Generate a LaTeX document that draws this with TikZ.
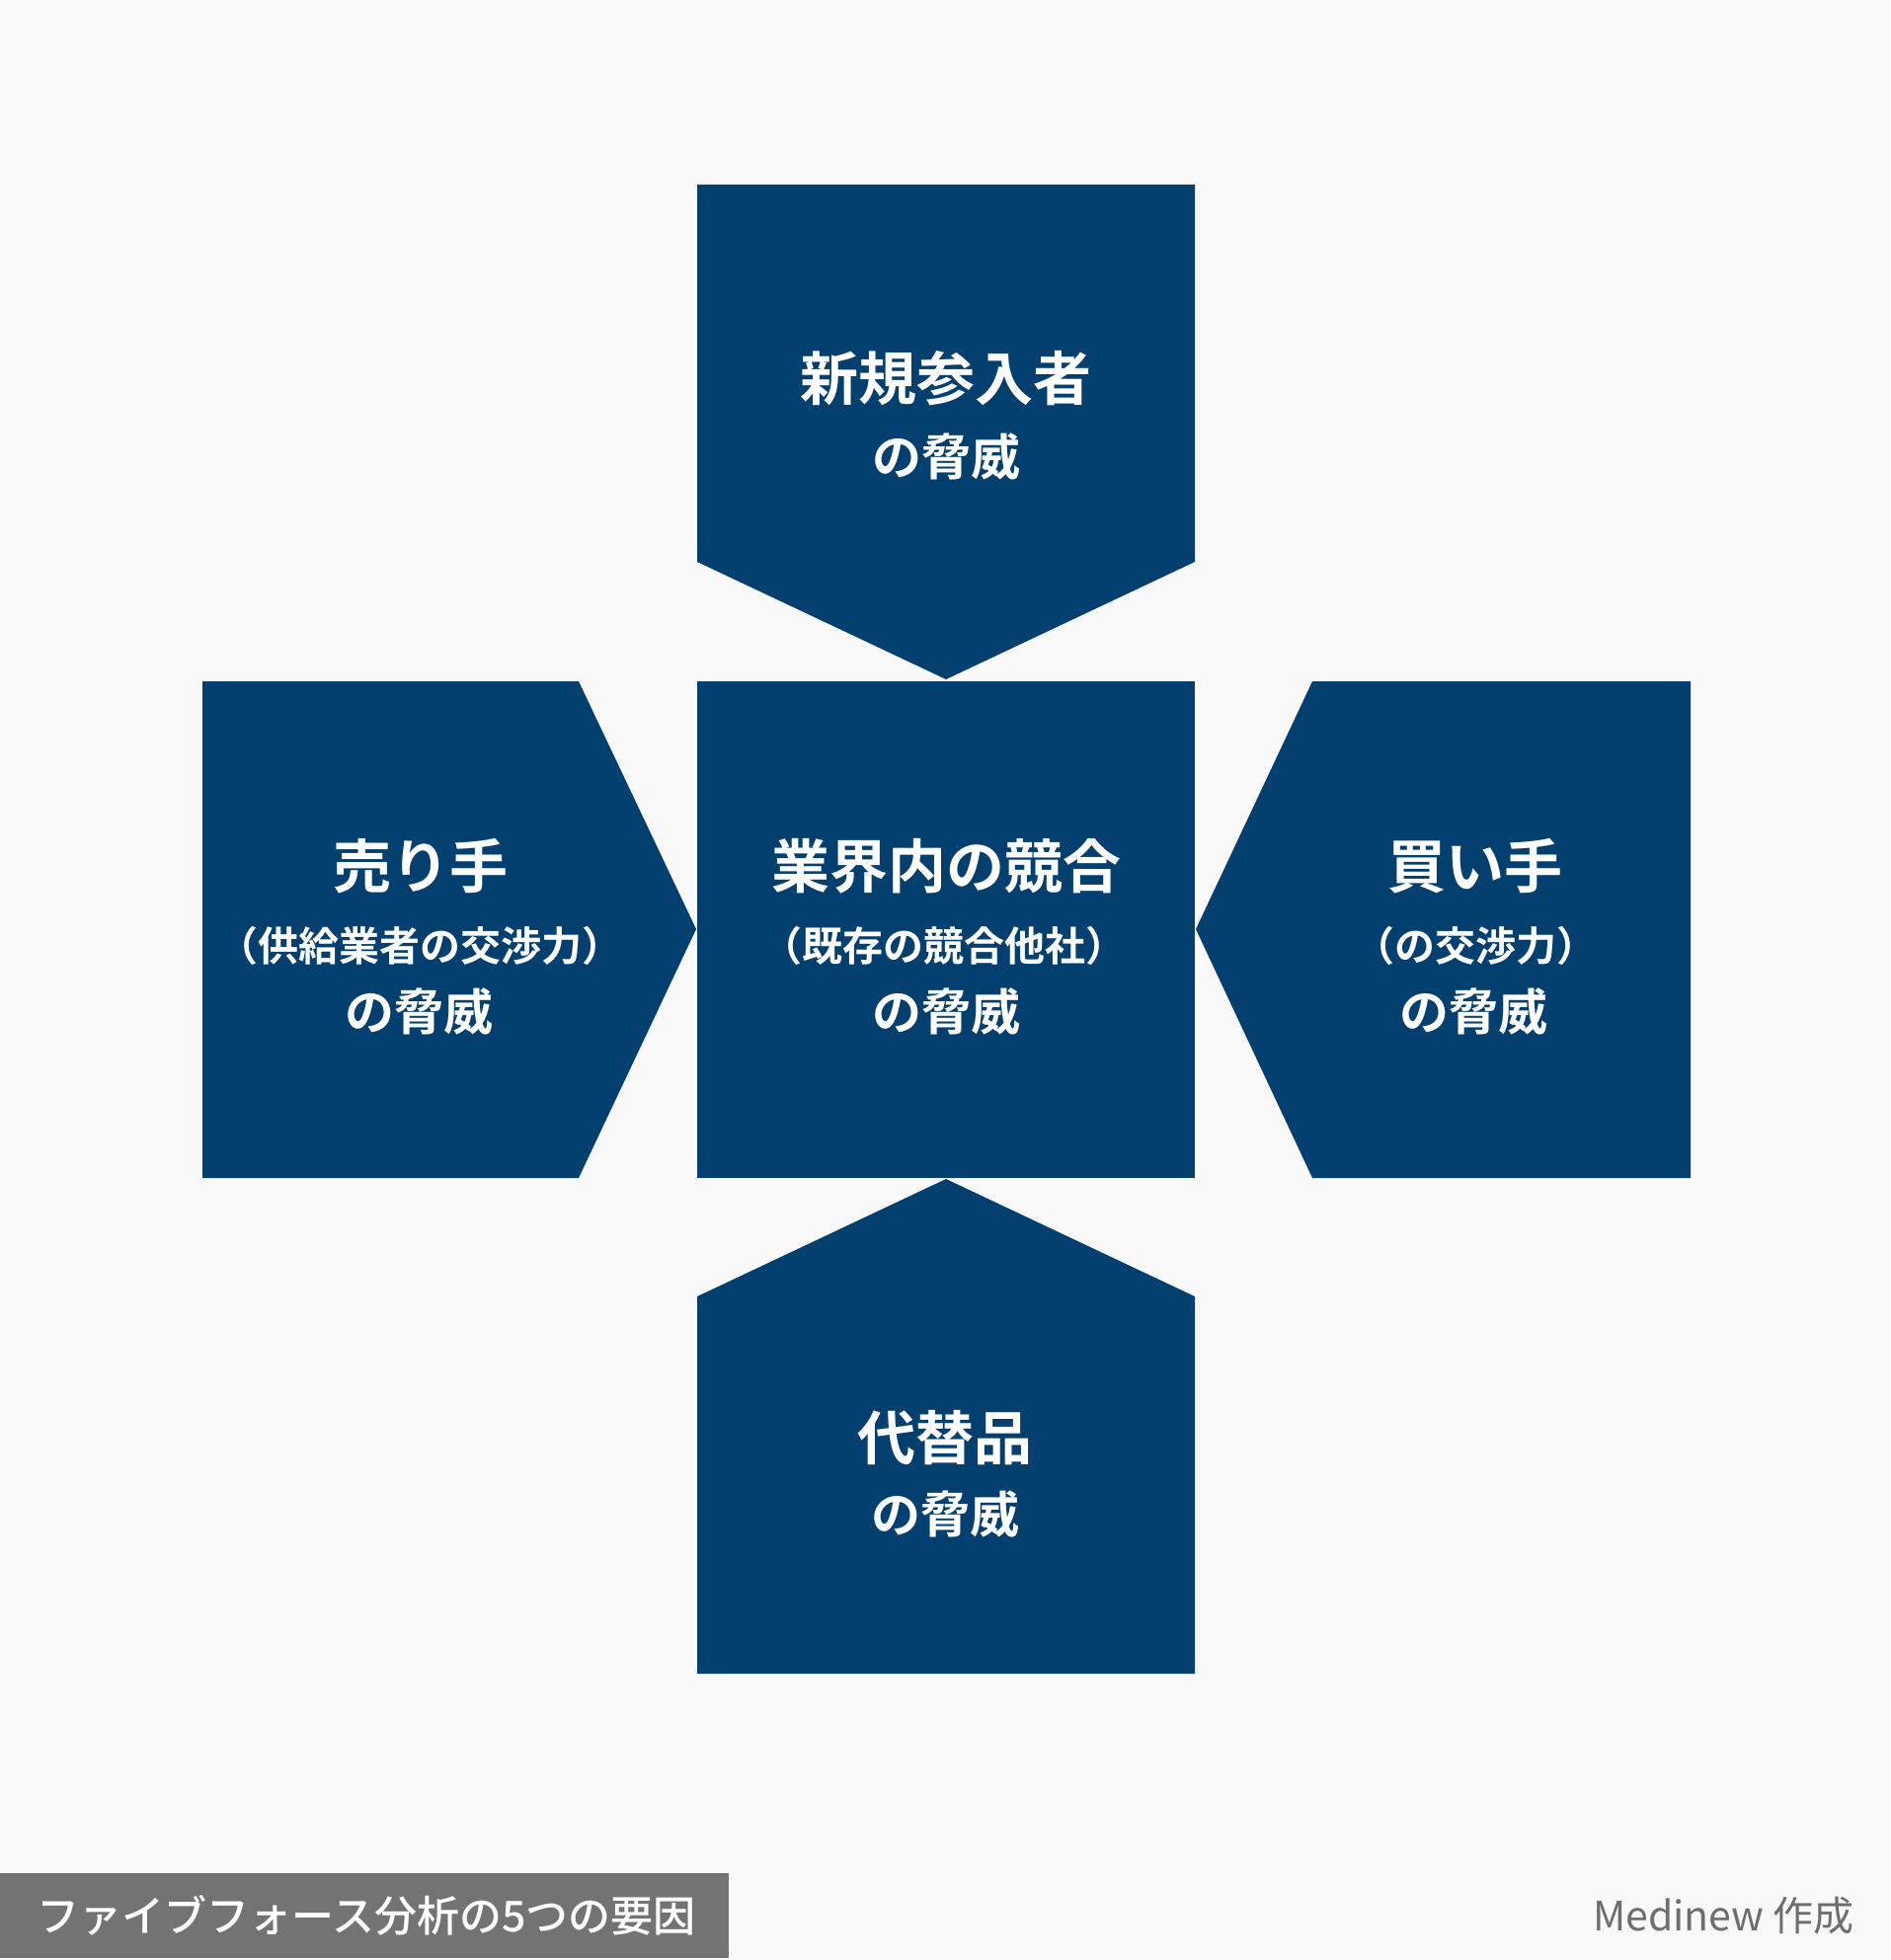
\documentclass[tikz,border=0pt]{standalone}
\usepackage{fontspec}
\newfontfamily\jpb{Noto Sans CJK JP Bold}
\newfontfamily\jpm{Noto Sans CJK JP Medium}
\newfontfamily\jpr{Noto Sans CJK JP}
\definecolor{navy}{RGB}{3,64,112}
\definecolor{bg}{RGB}{249,249,249}
\definecolor{capgray}{RGB}{115,115,115}
\definecolor{credgray}{RGB}{110,110,110}
\tikzset{
  force/.style={fill=navy, draw=none},
  tbig/.style={anchor=base, inner sep=0pt, text=white, font=\jpb\fontsize{59pt}{59pt}\selectfont},
  tsmall/.style={anchor=base, inner sep=0pt, text=white, font=\jpb\fontsize{41pt}{41pt}\selectfont},
  tmid/.style={anchor=base, inner sep=0pt, text=white, font=\jpb\fontsize{50pt}{50pt}\selectfont},
}
\begin{document}
\begin{tikzpicture}[x=1pt, y=-1pt]
\useasboundingbox (0,0) rectangle (1914,1985);
\fill[bg] (0,0) rectangle (1914,1985);
% shapes
\fill[force] (706,187) -- (1210,187) -- (1210,569) -- (958,688) -- (706,569) -- cycle;
\fill[force] (706,690) rectangle (1210,1193);
\fill[force] (205,690) -- (586,690) -- (705,941) -- (586,1193) -- (205,1193) -- cycle;
\fill[force] (1211,941) -- (1329,690) -- (1712,690) -- (1712,1193) -- (1329,1193) -- cycle;
\fill[force] (706,1313) -- (958,1194) -- (1210,1313) -- (1210,1695) -- (706,1695) -- cycle;
% top
\node[tbig] (t1) at (958,405) {新規参入者};
\node[tmid] (t2) at (958,481) {の脅威};
% center
\node[tbig] (c1) at (958,899) {業界内の競合};
\node[tsmall] (c2) at (956,973) {（既存の競合他社）};
\node[tmid] (c3) at (958,1043) {の脅威};
% left
\node[tbig] (l1) at (426,899) {売り手};
\node[tsmall] (l2) at (425,973) {（供給業者の交渉力）};
\node[tmid] (l3) at (424,1043) {の脅威};
% right
\node[tbig] (r1) at (1494,899) {買い手};
\node[tsmall] (r2) at (1494,973) {（の交渉力）};
\node[tmid] (r3) at (1492,1043) {の脅威};
% bottom
\node[tbig] (b1) at (957,1478) {代替品};
\node[tmid] (b2) at (957,1552) {の脅威};
% caption
\fill[capgray] (0,1897) rectangle (738,1983);
\node[anchor=base west, inner sep=0pt, text=white, font=\jpm\fontsize{43pt}{43pt}\selectfont] (cap) at (37,1956) {ファイブフォース分析の5つの要因};
\node[anchor=base east, inner sep=0pt, text=credgray, font=\jpr\fontsize{41pt}{41pt}\selectfont] (cred) at (1878,1955) {Medinew 作成};
\end{tikzpicture}
\end{document}
